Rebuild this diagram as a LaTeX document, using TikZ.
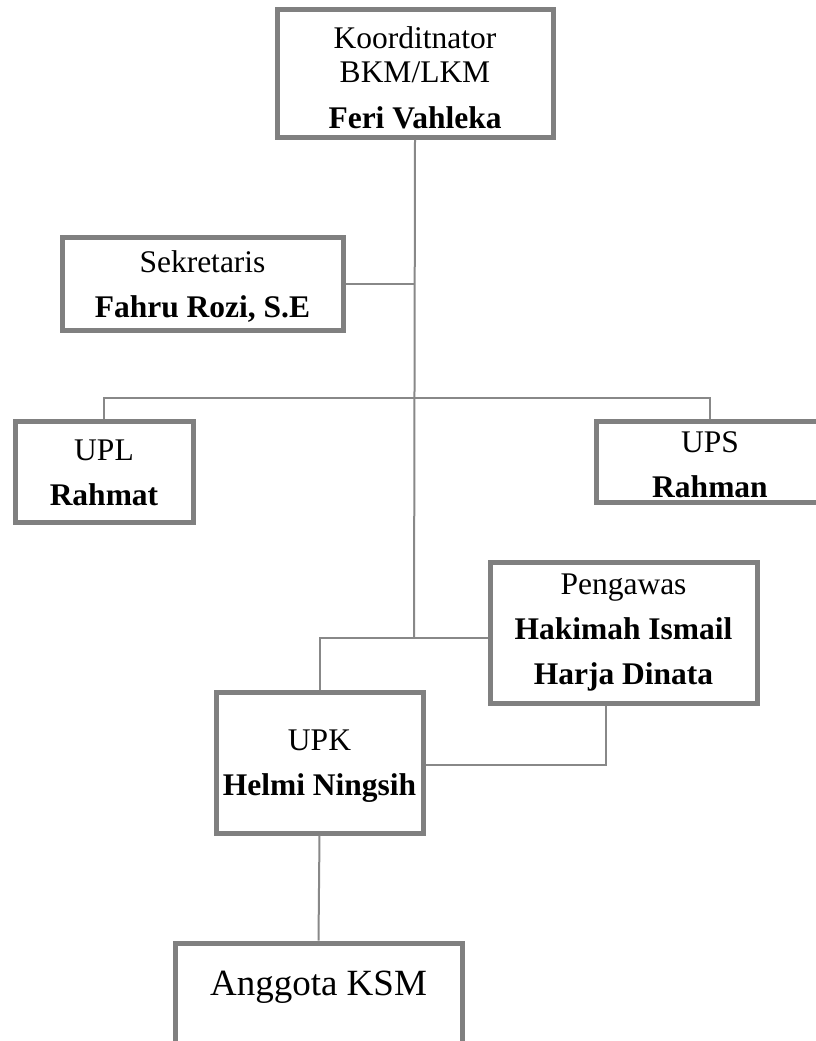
\documentclass[tikz,border=0pt]{standalone}
\usepackage{fontspec}
\setmainfont{Liberation Serif}
\definecolor{boxgray}{RGB}{128,128,128}
\definecolor{linkgray}{RGB}{136,136,136}
\tikzset{
    unitbox/.style={draw=boxgray, line width=5pt, fill=white, align=center,
        inner sep=0pt, font=\fontsize{31.5}{34}\selectfont},
    link/.style={draw=linkgray, line width=2pt}
}
\begin{document}
\begin{tikzpicture}[x=1pt, y=-1pt]
    \def\gap{\\[11pt]}
    \useasboundingbox (0,0) rectangle (815,1041);
    % boxes
    \node[unitbox, minimum width=276pt, text height=118pt, text depth=9pt] (koord) at (415,73.5)
        {Koorditnator\\BKM/LKM\\[12pt]\textbf{Feri Vahleka}};
    \node[unitbox, minimum width=281pt, text height=80pt, text depth=13pt] (sekr) at (202.5,283.5)
        {Sekretaris\gap\textbf{Fahru Rozi, S.E}};
    \node[unitbox, minimum width=178pt, text height=84pt, text depth=17pt] (upl) at (104,471.5)
        {UPL\gap\textbf{Rahmat}};
    \node[unitbox, minimum width=228pt, text height=76pt, text depth=5pt] (ups) at (710,461.5)
        {UPS\gap\textbf{Rahman}};
    \node[unitbox, minimum width=267pt, text height=122pt, text depth=19pt] (peng) at (623.5,632.5)
        {Pengawas\gap\textbf{Hakimah Ismail}\gap\textbf{Harja Dinata}};
    \node[unitbox, minimum width=207pt, text height=103pt, text depth=38pt] (upk) at (319.5,762.5)
        {UPK\gap\textbf{Helmi Ningsih}};
    \node[unitbox, minimum width=287pt, text height=52pt, text depth=85pt,
        font=\fontsize{37}{40}\selectfont] (ksm) at (318.5,1011.5) {Anggota KSM};
    % connectors
    \coordinate (spine) at (414,638);
    \coordinate (branch) at (414,398);
    \draw[link] (koord.south) -- (spine);
    \draw[link] (sekr.east) -- (sekr.east -| spine);
    \draw[link] (upl.north) |- (branch) -| (ups.north);
    \draw[link] (upk.north) |- ([yshift=-5.5pt]peng.west);
    \draw[link] ([yshift=-2.5pt]upk.east) -| ([xshift=-17.5pt]peng.south);
    \draw[link] (upk.south) -- (ksm.north);
\end{tikzpicture}
\end{document}
